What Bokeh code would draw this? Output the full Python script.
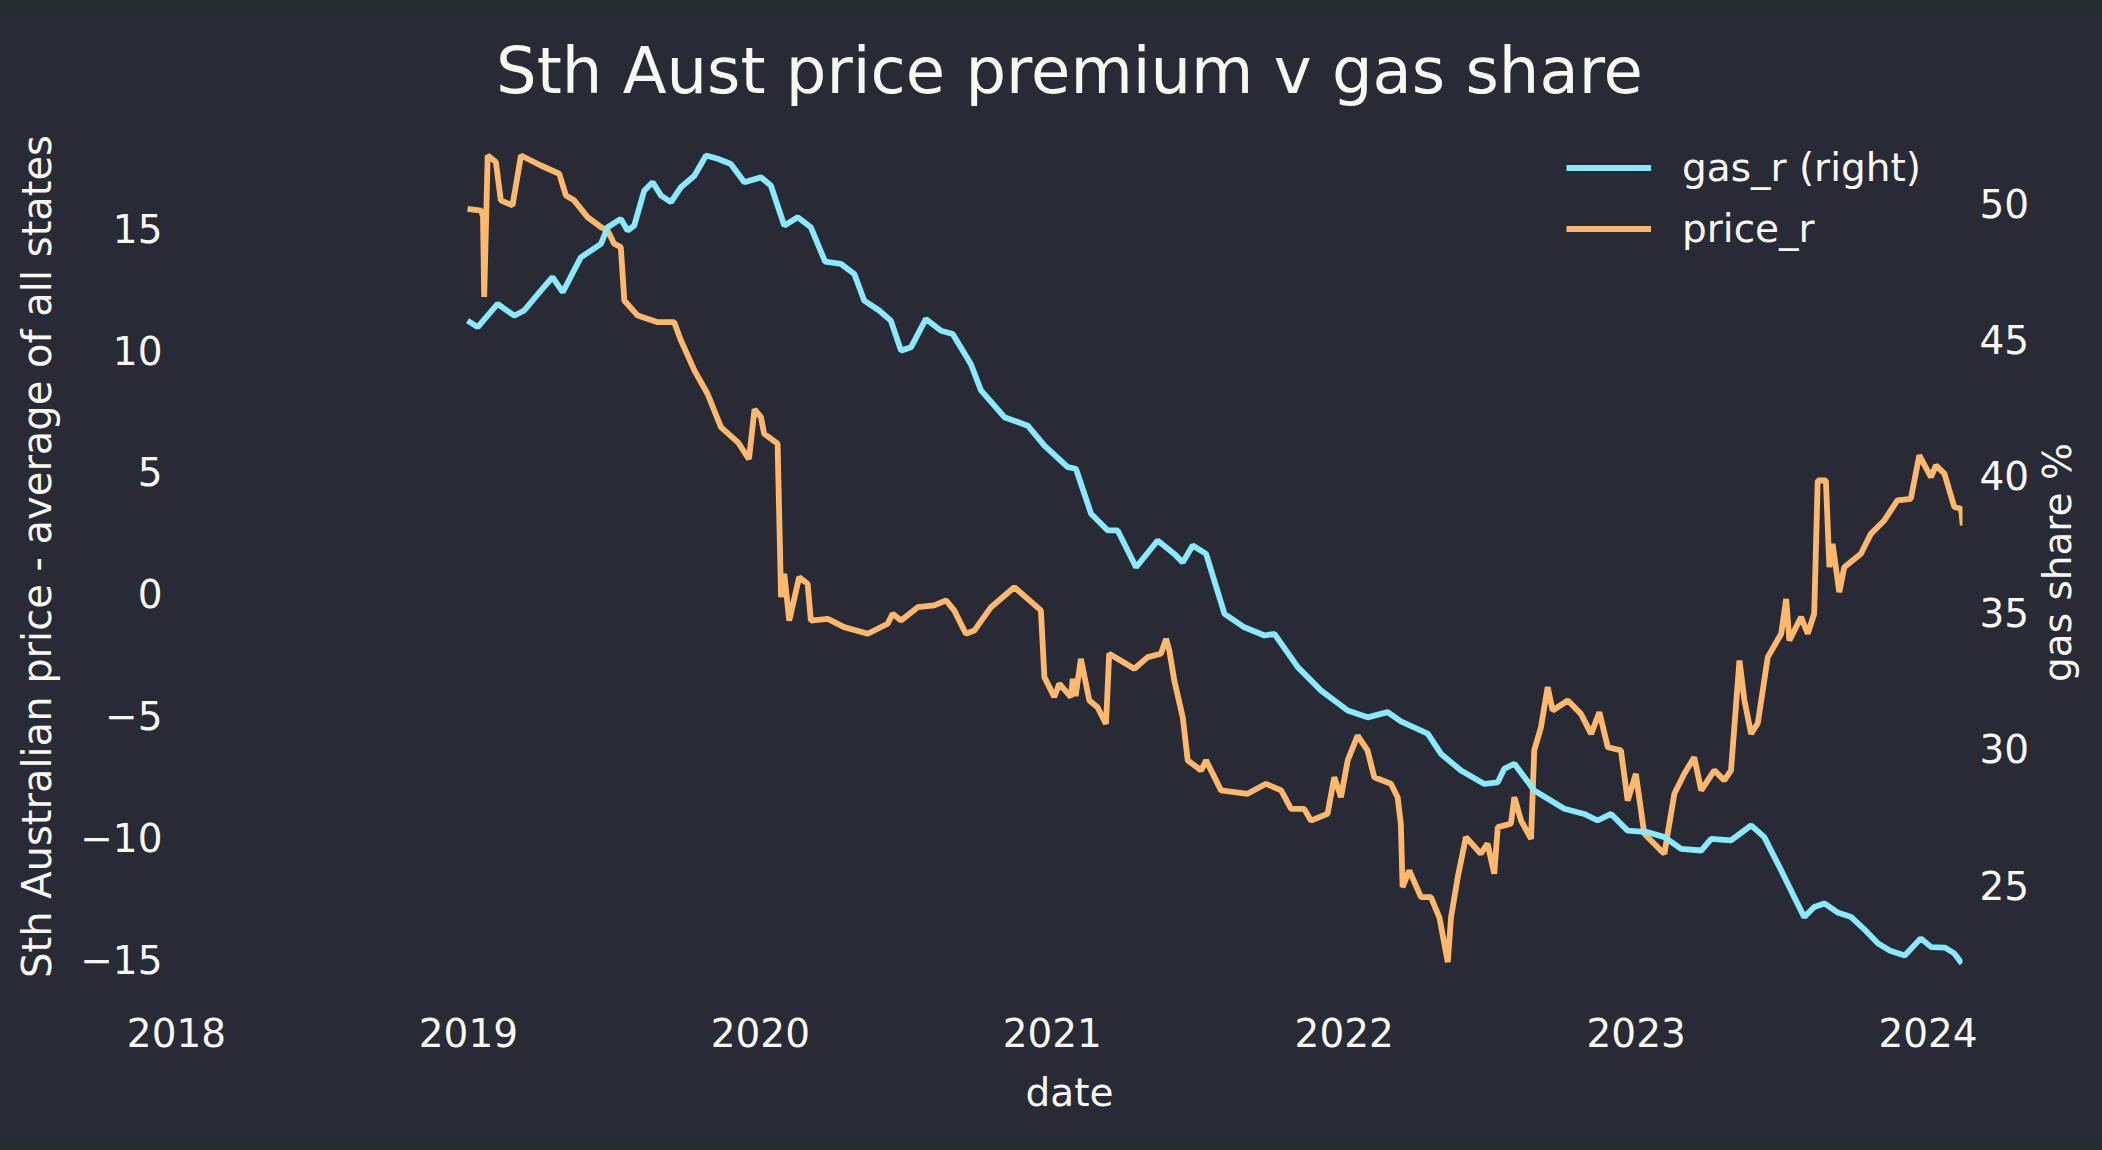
import math
from bokeh.plotting import figure
from bokeh.layouts import row
from bokeh.models import (Range1d, LinearAxis, FixedTicker, CustomJSTickFormatter,
                          Legend, LegendItem)
from bokeh.core.properties import value
from bokeh.embed import file_html
from bokeh.resources import INLINE

# ---------------- data ----------------
gas_year = [2018.997, 2019.032, 2019.100, 2019.157, 2019.191, 2019.248, 2019.288, 2019.323,
            2019.385, 2019.454, 2019.477, 2019.522, 2019.545, 2019.568, 2019.602, 2019.631,
            2019.660, 2019.694, 2019.728, 2019.774, 2019.814, 2019.854, 2019.899, 2019.945,
            2020.002, 2020.036, 2020.082, 2020.128, 2020.173, 2020.222, 2020.276, 2020.322,
            2020.356, 2020.407, 2020.447, 2020.482, 2020.516, 2020.567, 2020.619, 2020.659,
            2020.721, 2020.756, 2020.836, 2020.916, 2020.973, 2021.053, 2021.081, 2021.133,
            2021.190, 2021.224, 2021.287, 2021.361, 2021.418, 2021.447, 2021.481, 2021.527,
            2021.555, 2021.590, 2021.658, 2021.727, 2021.761, 2021.841, 2021.921, 2022.012,
            2022.080, 2022.149, 2022.194, 2022.286, 2022.332, 2022.400, 2022.480, 2022.526,
            2022.548, 2022.583, 2022.651, 2022.754, 2022.822, 2022.868, 2022.914, 2022.971,
            2023.040, 2023.097, 2023.154, 2023.223, 2023.257, 2023.325, 2023.394, 2023.439,
            2023.497, 2023.540, 2023.576, 2023.610, 2023.645, 2023.690, 2023.737, 2023.780,
            2023.829, 2023.870, 2023.920, 2023.975, 2024.011, 2024.058, 2024.090, 2024.116]
gas_share = [45.69, 45.45, 46.30, 45.87, 46.06, 46.79, 47.28, 46.73,
             48.01, 48.50, 49.11, 49.42, 48.99, 49.17, 50.45, 50.76,
             50.27, 50.03, 50.58, 51.00, 51.74, 51.62, 51.43, 50.76,
             50.94, 50.64, 49.17, 49.48, 49.11, 47.85, 47.77, 47.40,
             46.42, 46.06, 45.69, 44.59, 44.71, 45.75, 45.32, 45.20,
             44.10, 43.13, 42.15, 41.84, 41.11, 40.32, 40.26, 38.61,
             38.00, 38.00, 36.65, 37.63, 37.14, 36.83, 37.45, 37.14,
             36.16, 34.94, 34.45, 34.15, 34.21, 32.99, 32.13, 31.40,
             31.15, 31.34, 31.00, 30.55, 29.81, 29.20, 28.71, 28.77,
             29.26, 29.45, 28.47, 27.80, 27.61, 27.37, 27.61, 27.00,
             26.94, 26.76, 26.33, 26.27, 26.70, 26.64, 27.19, 26.76,
             25.54, 24.60, 23.83, 24.20, 24.33, 24.00, 23.83, 23.40,
             22.86, 22.60, 22.42, 23.05, 22.73, 22.71, 22.50, 22.13]

price_year = [2018.997, 2019.043, 2019.050, 2019.054, 2019.066, 2019.094, 2019.111, 2019.151,
              2019.180, 2019.248, 2019.311, 2019.334, 2019.362, 2019.408, 2019.454, 2019.477,
              2019.499, 2019.522, 2019.534, 2019.580, 2019.648, 2019.705, 2019.728, 2019.774,
              2019.819, 2019.865, 2019.925, 2019.961, 2019.980, 2020.002, 2020.013, 2020.059,
              2020.071, 2020.082, 2020.099, 2020.133, 2020.162, 2020.173, 2020.231, 2020.287,
              2020.368, 2020.436, 2020.453, 2020.482, 2020.539, 2020.596, 2020.636, 2020.664,
              2020.704, 2020.733, 2020.790, 2020.870, 2020.916, 2020.961, 2020.973, 2021.007,
              2021.024, 2021.064, 2021.070, 2021.080, 2021.098, 2021.127, 2021.155, 2021.184,
              2021.195, 2021.281, 2021.327, 2021.372, 2021.390, 2021.401, 2021.418, 2021.447,
              2021.464, 2021.510, 2021.527, 2021.578, 2021.669, 2021.732, 2021.784, 2021.818,
              2021.863, 2021.886, 2021.943, 2021.966, 2021.989, 2022.012, 2022.046, 2022.080,
              2022.103, 2022.160, 2022.183, 2022.194, 2022.200, 2022.223, 2022.263, 2022.297,
              2022.326, 2022.355, 2022.366, 2022.389, 2022.417, 2022.468, 2022.491, 2022.514,
              2022.526, 2022.571, 2022.583, 2022.606, 2022.640, 2022.651, 2022.674, 2022.697,
              2022.714, 2022.766, 2022.811, 2022.846, 2022.874, 2022.903, 2022.948, 2022.971,
              2022.999, 2023.028, 2023.085, 2023.097, 2023.108, 2023.131, 2023.165, 2023.199,
              2023.223, 2023.268, 2023.302, 2023.325, 2023.354, 2023.371, 2023.394, 2023.417,
              2023.451, 2023.497, 2023.514, 2023.525, 2023.565, 2023.588, 2023.610, 2023.622,
              2023.650, 2023.662, 2023.673, 2023.696, 2023.713, 2023.770, 2023.804, 2023.850,
              2023.895, 2023.941, 2023.970, 2024.010, 2024.027, 2024.056, 2024.090, 2024.113,
              2024.119]
price_prem = [15.80, 15.73, 15.50, 12.18, 17.99, 17.72, 16.15, 15.94,
              17.99, 17.58, 17.24, 16.35, 16.15, 15.46, 15.05, 14.91,
              14.37, 14.23, 12.04, 11.42, 11.15, 11.15, 10.40, 9.17,
              8.21, 6.84, 6.19, 5.53, 7.57, 7.25, 6.57, 6.16,
              -0.14, 0.82, -1.10, 0.68, 0.41, -1.10, -1.03, -1.37,
              -1.64, -1.23, -0.82, -1.10, -0.55, -0.48, -0.27, -0.68,
              -1.64, -1.51, -0.55, 0.27, -0.21, -0.68, -3.42, -4.24,
              -3.69, -4.24, -3.49, -4.20, -2.67, -4.38, -4.66, -5.34,
              -2.46, -3.08, -2.60, -2.46, -1.85, -2.33, -3.56, -5.07,
              -6.84, -7.25, -6.84, -8.07, -8.21, -7.80, -8.07, -8.83,
              -8.83, -9.31, -9.03, -7.53, -8.35, -6.84, -5.82, -6.43,
              -7.53, -7.80, -8.35, -9.44, -12.04, -11.36, -12.45, -12.45,
              -13.28, -15.12, -13.28, -11.63, -9.99, -10.67, -10.26, -11.49,
              -9.58, -9.44, -8.35, -9.31, -10.06, -6.43, -5.48, -3.83,
              -4.79, -4.38, -4.93, -5.75, -4.86, -6.30, -6.43, -8.49,
              -7.39, -9.85, -10.54, -10.67, -9.85, -8.21, -7.39, -6.71,
              -8.07, -7.25, -7.66, -7.25, -2.74, -4.38, -5.75, -5.30,
              -2.60, -1.64, -0.21, -1.92, -0.96, -1.64, -0.82, 4.65,
              4.65, 1.09, 2.05, 0.07, 1.09, 1.64, 2.46, 3.01,
              3.83, 3.90, 5.68, 4.79, 5.27, 4.93, 3.56, 3.49,
              2.80]

x_ticks = [2018, 2019, 2020, 2021, 2022, 2023, 2024]
left_ticks = [-15, -10, -5, 0, 5, 10, 15]
right_ticks = [25, 30, 35, 40, 45, 50]

title_text = "Sth Aust price premium v gas share"
x_label = "date"
left_label = "Sth Australian price - average of all states"
right_label = "gas share %"

# ---------------- style ----------------
BG = "#282a36"
STRIP = "#222a2b"
FG = "#f8f8f2"
CYAN = "#8be9fd"
ORANGE = "#ffb86c"
FONT = "DejaVu Sans"
FS = "39px"

X_START, X_END = 2018.0, 2024.118
P_LO, P_HI = -16.90, 19.96
GAS_LO, GAS_HI = 20.59, 53.50

p = figure(frame_width=1786, frame_height=898,
           min_border_left=176, min_border_right=68,
           min_border_top=107, min_border_bottom=145,
           x_range=Range1d(X_START, X_END), y_range=Range1d(P_LO, P_HI),
           output_backend="svg", toolbar_location=None)
p.extra_y_ranges = {"gas": Range1d(GAS_LO, GAS_HI)}

p.background_fill_color = BG
p.border_fill_color = BG
p.border_fill_alpha = 0.0
p.outline_line_color = None
p.xgrid.visible = False
p.ygrid.visible = False

p.title.text = title_text
p.title.align = "center"
p.title.text_font = FONT
p.title.text_font_size = "64px"
p.title.text_font_style = "normal"
p.title.text_color = FG
p.title.standoff = 0

r_price = p.line(price_year, price_prem, line_color=ORANGE, line_width=5.8)
r_gas = p.line(gas_year, gas_share, line_color=CYAN, line_width=5.8, y_range_name="gas")

fmt = CustomJSTickFormatter(code="return String(tick).replace('-', '\\u2212');")

ax_r = LinearAxis(y_range_name="gas")
p.add_layout(ax_r, "right")

p.xaxis.ticker = FixedTicker(ticks=x_ticks)
p.yaxis[0].ticker = FixedTicker(ticks=left_ticks)
ax_r.ticker = FixedTicker(ticks=right_ticks)
p.xaxis.axis_label = x_label
p.yaxis[0].axis_label = left_label

for ax in [p.xaxis[0], p.yaxis[0], ax_r]:
    ax.formatter = fmt
    ax.axis_line_color = None
    ax.major_tick_line_color = None
    ax.minor_tick_line_color = None
    ax.major_tick_out = 0
    ax.major_tick_in = 0
    ax.minor_tick_out = 0
    ax.major_label_text_font = FONT
    ax.major_label_text_font_size = FS
    ax.major_label_text_color = FG
    ax.axis_label_text_font = FONT
    ax.axis_label_text_font_size = FS
    ax.axis_label_text_font_style = "normal"
    ax.axis_label_text_color = FG

p.yaxis[0].axis_label_text_font_size = "40px"
p.xaxis[0].major_label_standoff = 12
p.xaxis[0].axis_label_standoff = 20
p.yaxis[0].major_label_standoff = 14
p.yaxis[0].axis_label_standoff = 17
ax_r.major_label_standoff = 17

legend = Legend(items=[LegendItem(label="gas_r (right)", renderers=[r_gas]),
                       LegendItem(label="price_r", renderers=[r_price])],
                location=(1390, 746))
legend.background_fill_alpha = 0
legend.border_line_color = None
legend.label_text_font = FONT
legend.label_text_font_size = FS
legend.label_text_color = FG
legend.glyph_width = 85
legend.glyph_height = 61
legend.label_height = 61
legend.label_standoff = 31
legend.spacing = 0
legend.padding = 10
legend.margin = 0
p.add_layout(legend)

# narrow strip to the right holding the right-hand axis title (reads bottom-to-top)
p2 = figure(title=None, frame_width=72, frame_height=1150,
            min_border_left=0, min_border_right=0, min_border_top=0, min_border_bottom=0,
            x_range=Range1d(0, 72), y_range=Range1d(0, 1150),
            x_axis_location=None, y_axis_location=None,
            output_backend="svg", toolbar_location=None)
p2.background_fill_alpha = 0.0
p2.border_fill_alpha = 0.0
p2.outline_line_color = None
p2.xgrid.visible = False
p2.ygrid.visible = False
p2.text(x=[24.5], y=[695], text=[right_label], angle=math.pi / 2,
        text_align="center", text_baseline="alphabetic",
        text_font=value(FONT), text_font_size=value(FS), text_color=FG)

layout = row(p, p2, spacing=0)

html = file_html(layout, INLINE)
css = ("<style>html, body { background-color: %s !important; "
       "background-image: linear-gradient(to bottom, %s 0px, %s 16px, rgba(0,0,0,0) 16px, "
       "rgba(0,0,0,0) 1142px, %s 1142px) !important; background-repeat: no-repeat !important; "
       "background-size: 100%% 1150px !important; }</style>" % (BG, STRIP, STRIP, STRIP))
if "</head>" in html:
    html = html.replace("</head>", css + "</head>", 1)
else:
    p.border_fill_alpha = 1.0
    html = file_html(layout, INLINE)
open("out.html", "w").write(html)
